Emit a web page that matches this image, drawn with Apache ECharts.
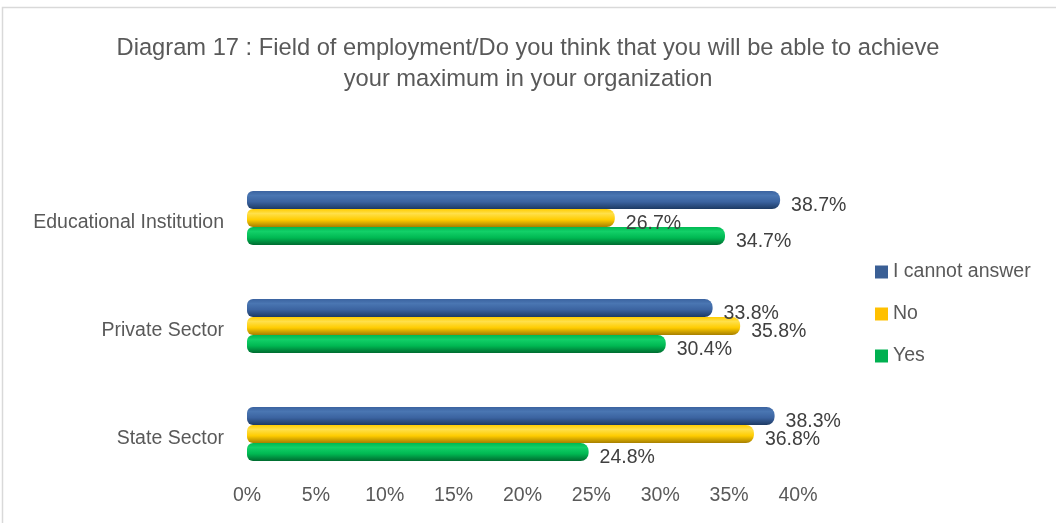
<!DOCTYPE html>
<html>
<head>
<meta charset="utf-8">
<script src="https://cdn.jsdelivr.net/npm/echarts@6/dist/echarts.min.js"></script>
<style>
  html, body { margin: 0; padding: 0; background: #ffffff; }
  #chart { width: 1056px; height: 523px; }
</style>
</head>
<body>
<div id="chart"></div>
<script>
// Categories listed bottom-to-top (ECharts category y-axis starts at the bottom)
const categories = ['State Sector', 'Private Sector', 'Educational Institution'];
const seriesNames = ['I cannot answer', 'No', 'Yes'];
const cannotAnswer = [38.3, 33.8, 38.7];
const noValues = [36.8, 35.8, 26.7];
const yesValues = [24.8, 30.4, 34.7];
const xTicks = [0, 5, 10, 15, 20, 25, 30, 35, 40];

const FONT = "'Liberation Sans Narrow', 'Arial Narrow', 'Liberation Sans', sans-serif";

// top / main / bottom shades giving each bar a cylindrical look
const palette = [
  { legend: '#3a5f95', top: '#4a76b2', mid: '#3b63a0', bot: '#1d3a63' },
  { legend: '#ffc000', top: '#ffe04a', mid: '#ffcc00', bot: '#a67f00' },
  { legend: '#00b050', top: '#12d068', mid: '#00b852', bot: '#006b30' }
];

function cylinder(p) {
  return new echarts.graphic.LinearGradient(0, 0, 0, 1, [
    { offset: 0, color: p.mid },
    { offset: 0.25, color: p.top },
    { offset: 0.6, color: p.mid },
    { offset: 1, color: p.bot }
  ]);
}

const dataSets = [cannotAnswer, noValues, yesValues];

const series = dataSets.map((vals, i) => ({
  name: seriesNames[i],
  type: 'bar',
  data: vals,
  barWidth: 18,
  barGap: '0%',
  itemStyle: {
    color: cylinder(palette[i]),
    borderRadius: [6, 8, 8, 6]
  },
  label: {
    show: true,
    position: 'right',
    distance: 11,
    offset: [0, 6],
    formatter: p => p.value.toFixed(1) + '%',
    fontFamily: FONT,
    fontSize: 19.5,
    color: '#404040'
  }
}));

const chart = echarts.init(document.getElementById('chart'), null, { renderer: 'canvas' });
chart.setOption({
  animation: false,
  backgroundColor: '#ffffff',
  color: palette.map(p => p.legend),
  title: {
    text: 'Diagram 17 : Field of employment/Do you think that you will be able to achieve\nyour maximum in your organization',
    left: 'center',
    top: 28,
    padding: [5, 0, 5, 12],
    textStyle: {
      fontFamily: FONT,
      fontSize: 23.7,
      fontWeight: 'normal',
      lineHeight: 31,
      color: '#595959'
    }
  },
  legend: {
    orient: 'vertical',
    left: 875,
    top: 261,
    padding: 0,
    itemWidth: 13,
    itemHeight: 13,
    itemGap: 20,
    icon: 'rect',
    data: seriesNames.map((n, i) => ({ name: n, itemStyle: { color: palette[i].legend } })),
    textStyle: { fontFamily: FONT, fontSize: 19.5, lineHeight: 22, color: '#595959' }
  },
  grid: { left: 247, width: 551, top: 164, height: 324 },
  xAxis: {
    type: 'value',
    min: 0,
    max: 40,
    interval: 5,
    axisLine: { show: false },
    axisTick: { show: false },
    splitLine: { show: false },
    axisLabel: {
      margin: -2,
      formatter: v => v + '%',
      fontFamily: FONT,
      fontSize: 19.5,
      color: '#595959'
    }
  },
  yAxis: {
    type: 'category',
    data: categories,
    axisLine: { show: false },
    axisTick: { show: false },
    axisLabel: {
      margin: 23,
      formatter: v => '{c|' + v + '}',
      rich: {
        c: {
          padding: [9, 0, 0, 0],
          fontFamily: FONT,
          fontSize: 19.5,
          color: '#595959'
        }
      }
    }
  },
  graphic: [{
    type: 'rect',
    shape: { x: 2.5, y: 7.5, width: 1100, height: 600 },
    style: { fill: 'none', stroke: '#d9d9d9', lineWidth: 1.5 },
    silent: true
  }],
  series: series
});
</script>
</body>
</html>
